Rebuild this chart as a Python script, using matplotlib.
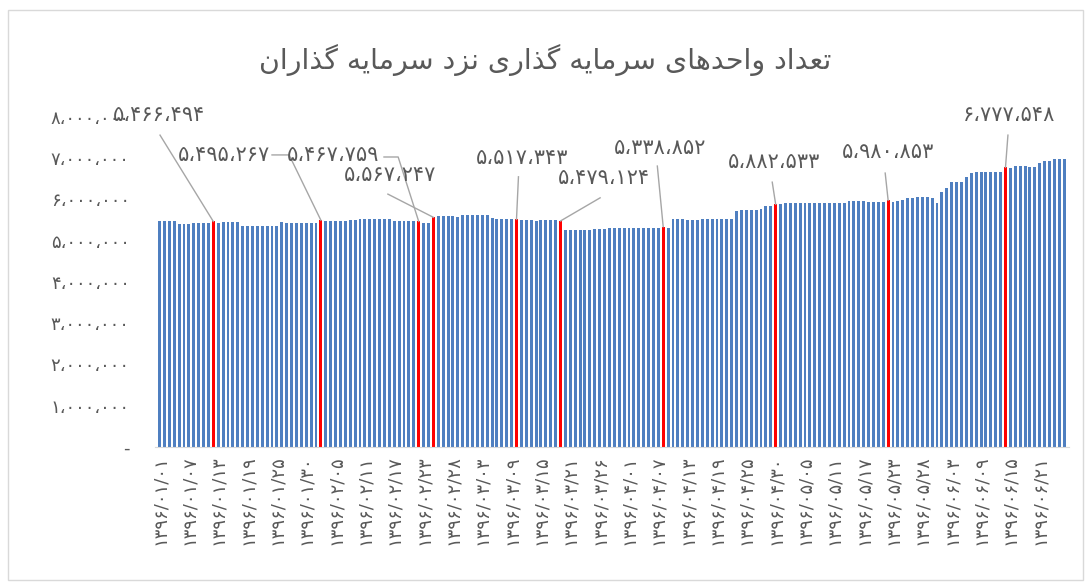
import matplotlib
matplotlib.use("Agg")
import matplotlib.pyplot as plt
from matplotlib.patches import Rectangle
from matplotlib.ticker import FuncFormatter, FixedLocator

# daily number of fund units held by investors (1396/01/01 .. 1396/06/31)
units = [
    5480000, 5480000, 5480000, 5480000, 5400000, 5400000, 5400000, 5430000, 5430000, 5430000,
    5430000, 5466494, 5430000, 5460000, 5460000, 5460000, 5460000, 5350000, 5350000, 5350000,
    5350000, 5350000, 5350000, 5350000, 5350000, 5460000, 5440000, 5440000, 5440000, 5440000,
    5440000, 5440000, 5440000, 5495267, 5470000, 5470000, 5470000, 5470000, 5470000, 5510000,
    5510000, 5520000, 5520000, 5520000, 5520000, 5520000, 5520000, 5520000, 5490000, 5490000,
    5490000, 5490000, 5490000, 5467759, 5440000, 5440000, 5567247, 5610000, 5610000, 5610000,
    5610000, 5565000, 5635000, 5635000, 5635000, 5635000, 5615000, 5635000, 5545000, 5515000,
    5515000, 5515000, 5515000, 5517343, 5505000, 5505000, 5505000, 5490000, 5505000, 5505000,
    5505000, 5505000, 5479124, 5250000, 5250000, 5250000, 5250000, 5250000, 5250000, 5275000,
    5275000, 5275000, 5315000, 5315000, 5315000, 5315000, 5315000, 5315000, 5315000, 5315000,
    5315000, 5315000, 5315000, 5338852, 5320000, 5535000, 5535000, 5535000, 5510000, 5510000,
    5510000, 5535000, 5535000, 5535000, 5535000, 5535000, 5535000, 5535000, 5710000, 5750000,
    5750000, 5750000, 5750000, 5775000, 5835000, 5835000, 5882533, 5895000, 5905000, 5905000,
    5905000, 5905000, 5905000, 5925000, 5925000, 5925000, 5925000, 5925000, 5925000, 5925000,
    5925000, 5965000, 5965000, 5965000, 5965000, 5935000, 5935000, 5935000, 5935000, 5980853,
    5935000, 5965000, 5995000, 6025000, 6025000, 6055000, 6055000, 6055000, 6045000, 5905000,
    6175000, 6275000, 6435000, 6435000, 6435000, 6555000, 6635000, 6675000, 6675000, 6675000,
    6675000, 6675000, 6675000, 6777548, 6760000, 6820000, 6820000, 6820000, 6780000, 6780000,
    6880000, 6930000, 6930000, 6990000, 6990000, 6990000,
]
highlight = [11, 33, 53, 56, 73, 82, 103, 126, 149, 173]
tick_labels = [
    "۱۳۹۶/۰۱/۰۱", "۱۳۹۶/۰۱/۰۷", "۱۳۹۶/۰۱/۱۳", "۱۳۹۶/۰۱/۱۹", "۱۳۹۶/۰۱/۲۵", "۱۳۹۶/۰۱/۳۰",
    "۱۳۹۶/۰۲/۰۵", "۱۳۹۶/۰۲/۱۱", "۱۳۹۶/۰۲/۱۷", "۱۳۹۶/۰۲/۲۳", "۱۳۹۶/۰۲/۲۸", "۱۳۹۶/۰۳/۰۳",
    "۱۳۹۶/۰۳/۰۹", "۱۳۹۶/۰۳/۱۵", "۱۳۹۶/۰۳/۲۱", "۱۳۹۶/۰۳/۲۶", "۱۳۹۶/۰۴/۰۱", "۱۳۹۶/۰۴/۰۷",
    "۱۳۹۶/۰۴/۱۳", "۱۳۹۶/۰۴/۱۹", "۱۳۹۶/۰۴/۲۵", "۱۳۹۶/۰۴/۳۰", "۱۳۹۶/۰۵/۰۵", "۱۳۹۶/۰۵/۱۱",
    "۱۳۹۶/۰۵/۱۷", "۱۳۹۶/۰۵/۲۳", "۱۳۹۶/۰۵/۲۸", "۱۳۹۶/۰۶/۰۳", "۱۳۹۶/۰۶/۰۹", "۱۳۹۶/۰۶/۱۵",
    "۱۳۹۶/۰۶/۲۱", "۱۳۹۶/۰۶/۲۶",
]
title = "تعداد واحدهای سرمایه گذاری نزد سرمایه گذاران"

BLUE, RED, GREY, LINE = "#4F7FC0", "#FF0000", "#595959", "#A6A6A6"

# matplotlib does no arabic shaping -> pick presentation forms by hand, then reverse
FORMS = {  # isolated, final, initial, medial
    "ا": ("\uFE8D", "\uFE8E"), "د": ("\uFEA9", "\uFEAA"), "ذ": ("\uFEAB", "\uFEAC"),
    "ر": ("\uFEAD", "\uFEAE"), "ز": ("\uFEAF", "\uFEB0"), "و": ("\uFEED", "\uFEEE"),
    "ت": ("\uFE95", "\uFE96", "\uFE97", "\uFE98"), "ح": ("\uFEA1", "\uFEA2", "\uFEA3", "\uFEA4"),
    "س": ("\uFEB1", "\uFEB2", "\uFEB3", "\uFEB4"), "ع": ("\uFEC9", "\uFECA", "\uFECB", "\uFECC"),
    "م": ("\uFEE1", "\uFEE2", "\uFEE3", "\uFEE4"), "ن": ("\uFEE5", "\uFEE6", "\uFEE7", "\uFEE8"),
    "ه": ("\uFEE9", "\uFEEA", "\uFEEB", "\uFEEC"), "ی": ("\uFBFC", "\uFBFD", "\uFBFE", "\uFBFF"),
    "گ": ("\uFB92", "\uFB93", "\uFB94", "\uFB95"),
}

def shape(s):
    out = []
    for i, ch in enumerate(s):
        f = FORMS.get(ch)
        if f is None:
            out.append(ch); continue
        prev = s[i - 1] if i > 0 else " "
        nxt = s[i + 1] if i + 1 < len(s) else " "
        jp = prev in FORMS and len(FORMS[prev]) == 4
        jn = len(f) == 4 and nxt in FORMS
        if jp and jn: out.append(f[3])
        elif jp: out.append(f[1])
        elif jn: out.append(f[2])
        else: out.append(f[0])
    return "".join(reversed(out))

FA = str.maketrans("0123456789,", "۰۱۲۳۴۵۶۷۸۹،")
def fa_num(v):
    return f"{int(round(v)):,}".translate(FA)

plt.rcParams["font.family"] = ["DejaVu Sans"]

fig = plt.figure(figsize=(10.86, 5.82), dpi=100)
ax = fig.add_axes([0.1424, 0.232, 0.842, 0.567])

x = list(range(len(units)))
cols = [RED if i in highlight else BLUE for i in x]
ax.bar(x, units, width=0.6, color=cols, linewidth=0)

ax.set_xlim(-1, len(units))
ax.set_ylim(0, 8e6)
ax.yaxis.set_major_locator(FixedLocator([i * 1e6 for i in range(9)]))
ax.yaxis.set_major_formatter(FuncFormatter(lambda v, p: "-" if v == 0 else fa_num(v)))
ax.set_xticks(x[::6])
ax.set_xticklabels(tick_labels[:len(x[::6])], rotation=90, fontsize=13, color=GREY)
ax.tick_params(axis="x", length=0, pad=6)
ax.tick_params(axis="y", length=0, pad=18, labelsize=13, labelcolor=GREY)
for s in ("left", "right", "top"):
    ax.spines[s].set_visible(False)
ax.spines["bottom"].set_color("#D9D9D9")

# data labels: text centre, then leader path towards the bar top
layout = [
    (-0.1, 8.04e6, [(0.1, 7.56e6)]),
    (13.2, 7.09e6, [(23.0, 7.08e6), (26.5, 7.08e6)]),
    (35.5, 7.08e6, [(45.9, 7.03e6), (48.8, 7.03e6)]),
    (47.1, 6.59e6, [(46.7, 6.13e6)]),
    (74.1, 7.00e6, [(73.4, 6.55e6)]),
    (90.9, 6.52e6, [(90.1, 6.04e6)]),
    (102.4, 7.26e6, [(101.8, 6.81e6)]),
    (125.7, 6.90e6, [(125.3, 6.42e6)]),
    (149.0, 7.14e6, [(148.4, 6.64e6)]),
    (173.7, 8.04e6, [(173.5, 7.56e6)]),
]
for idx, (tx, ty, path) in zip(highlight, layout):
    ax.text(tx, ty, fa_num(units[idx]), ha="center", va="center", fontsize=15, color=GREY)
    px = [p[0] for p in path] + [idx]
    py = [p[1] for p in path] + [units[idx]]
    ax.plot(px, py, color=LINE, lw=1, clip_on=False)

fig.text(0.502, 0.897, shape(title), ha="center", va="center", fontsize=20.5, color=GREY)
fig.patches.append(Rectangle((0.007, 0.003), 0.99, 0.98, transform=fig.transFigure,
                             fill=False, edgecolor="#D9D9D9", lw=1))

fig.savefig("out.png", dpi=100)
